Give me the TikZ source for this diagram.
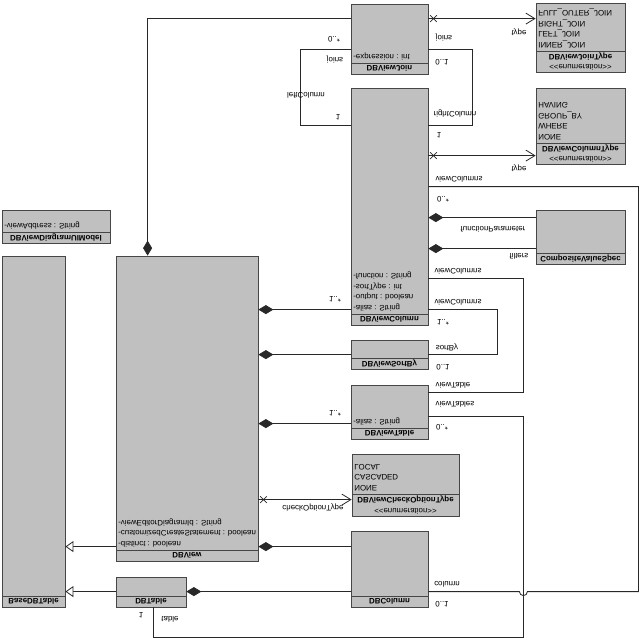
\documentclass[tikz,border=0pt]{standalone}
\usepackage{fontspec}
\setmainfont{Liberation Sans}
\usepackage{tikz}
\usetikzlibrary{arrows.meta,positioning,calc,shapes.misc}
\definecolor{boxgray}{RGB}{192,192,192}
\definecolor{boxline}{RGB}{70,70,70}
\definecolor{wireline}{RGB}{40,40,40}
\newcommand{\umlfont}{\fontsize{7.9pt}{10.5pt}\selectfont}
\newcommand{\stereo}[1]{<\kern0pt<#1>\kern0pt>}

\begin{document}
\begin{tikzpicture}[x=1pt, y=1pt, yscale=-1, transform shape,
  cls/.style={draw=boxline, fill=boxgray, rectangle, inner sep=0pt, line width=0.8pt},
  band/.style={draw=boxline, fill=boxgray, rectangle, inner sep=0pt, minimum height=11pt, font=\umlfont\bfseries, align=center, anchor=north, line width=0.8pt},
  enumband/.style={band, minimum height=21pt, font=\umlfont},
  attr/.style={anchor=north west, inner sep=2.5pt, align=left, font=\umlfont},
  lbl/.style={inner sep=0pt, font=\umlfont},
  wire/.style={draw=wireline, line width=0.8pt},
  comp/.style={wire, -{Diamond[length=15pt, width=9pt]}},
  nav/.style={wire, -{Straight Barb[length=9pt, width=11pt]}},
  gen/.style={wire, -{Triangle[open, length=8pt, width=11pt, fill=white]}},
  xmark/.style={cross out, draw=wireline, minimum size=6pt, inner sep=0pt, line width=0.7pt}
]
\useasboundingbox (0,0) rectangle (640,640);

% classes
\node[cls, minimum width=77pt, minimum height=70pt] (join) at (389.5,39) {};
\node[band, minimum width=77pt] (joinname) at (join.north) {DBViewJoin};
\node[attr] (joinattr) at (joinname.south west) {-expression : int};

\node[cls, minimum width=89pt, minimum height=69pt] (jointype) at (580.5,37.5) {};
\node[enumband, minimum width=89pt] (jointypename) at (jointype.north) {\stereo{enumeration}\\\textbf{DBViewJoinType}};
\node[attr] (jointypelit) at (jointypename.south west) {INNER\_JOIN\\LEFT\_JOIN\\RIGHT\_JOIN\\FULL\_OUTER\_JOIN};

\node[cls, minimum width=77pt, minimum height=237pt] (vcol) at (389.5,206.5) {};
\node[band, minimum width=77pt] (vcolname) at (vcol.north) {DBViewColumn};
\node[attr] (vcolattr) at (vcolname.south west) {-alias : String\\-output : boolean\\-sortType : int\\-function : String};

\node[cls, minimum width=89pt, minimum height=76pt] (coltype) at (580.5,126) {};
\node[enumband, minimum width=89pt] (coltypename) at (coltype.north) {\stereo{enumeration}\\\textbf{DBViewColumnType}};
\node[attr] (coltypelit) at (coltypename.south west) {NONE\\WHERE\\GROUP\_BY\\HAVING};

\node[cls, minimum width=89pt, minimum height=54pt] (cvs) at (580.5,237) {};
\node[band, minimum width=89pt] (cvsname) at (cvs.north) {CompositeValueSpec};

\node[cls, minimum width=77pt, minimum height=29pt] (sortby) at (389.5,354.5) {};
\node[band, minimum width=77pt] (sortbyname) at (sortby.north) {DBViewSortBy};

\node[cls, minimum width=77pt, minimum height=54pt] (vtable) at (389.5,412) {};
\node[band, minimum width=77pt] (vtablename) at (vtable.north) {DBViewTable};
\node[attr] (vtableattr) at (vtablename.south west) {-alias : String};

\node[cls, minimum width=107pt, minimum height=62pt] (checkopt) at (405.5,485) {};
\node[enumband, minimum width=107pt, minimum height=22pt] (checkoptname) at (checkopt.north) {\stereo{enumeration}\\\textbf{DBViewCheckOptionType}};
\node[attr] (checkoptlit) at (checkoptname.south west) {NONE\\CASCADED\\LOCAL};

\node[cls, minimum width=77pt, minimum height=76pt] (dbcolumn) at (389.5,569) {};
\node[band, minimum width=77pt] (dbcolumnname) at (dbcolumn.north) {DBColumn};

\node[cls, minimum width=142pt, minimum height=305pt] (view) at (187,408.5) {};
\node[band, minimum width=142pt] (viewname) at (view.north) {DBView};
\node[attr] (viewattr) at (viewname.south west) {-distinct : boolean\\-customizedCreateStatement : boolean\\-viewEditorDiagramId : String};

\node[cls, minimum width=70pt, minimum height=30pt] (dbtable) at (151,592) {};
\node[band, minimum width=70pt] (dbtablename) at (dbtable.north) {DBTable};

\node[cls, minimum width=63pt, minimum height=351pt] (basetable) at (33.5,431.5) {};
\node[band, minimum width=63pt] (basetablename) at (basetable.north) {BaseDBTable};

\node[cls, minimum width=108pt, minimum height=33pt] (uimodel) at (56,226.5) {};
\node[band, minimum width=108pt] (uimodelname) at (uimodel.north) {DBViewDiagramUIModel};
\node[attr] (uimodelattr) at (uimodelname.south west) {-viewAddress : String};

% DBViewJoin
\draw[comp] ($(join.south west)+(0,15)$) -| ($(view.south west)+(32,0)$);
\draw[nav] ($(join.south east)+(0,15)$) -- ($(jointype.south west)+(0,16)$);
\node[xmark] (xjoin) at ($(join.south east)+(5,15)$) {};
\draw[wire] ($(join.south west)+(0,46)$) -- ++(-50,0) |- ($(vcol.south west)+(0,38)$);
\draw[wire] ($(join.south east)+(0,46)$) -- ++(44,0) |- ($(vcol.south east)+(0,38)$);

% DBViewColumn
\draw[nav] ($(vcol.south east)+(0,68)$) -- ($(coltype.south west)+(0,68)$);
\node[xmark] (xcol) at ($(vcol.south east)+(5,68)$) {};
\draw[wire] ($(vcol.south east)+(0,99)$) -- ++(210,0) -- ++(0,405)
  -- ($(dbcolumn.south east)+(99,61)$) arc[start angle=0, end angle=180, radius=4pt]
  -- ($(dbcolumn.south east)+(0,61)$);
\draw[comp] ($(cvs.south west)+(0,8)$) -- ($(vcol.south east)+(0,130)$);
\draw[comp] ($(cvs.south west)+(0,39)$) -- ($(vcol.south east)+(0,161)$);
\draw[wire] ($(vcol.south east)+(0,191)$) -- ++(95,0) |- ($(vtable.south east)+(0,8)$);
\draw[wire] ($(vcol.south east)+(0,222)$) -- ++(69,0) |- ($(sortby.south east)+(0,15)$);
\draw[wire] ($(vtable.south east)+(0,32)$) -- ++(95,0) -- ++(0,221) -| ($(dbtable.north west)+(38,0)$);

% DBView
\draw[comp] ($(vcol.south west)+(0,222)$) -- ($(view.south east)+(0,54)$);
\draw[comp] ($(sortby.south west)+(0,15)$) -- ($(view.south east)+(0,99)$);
\draw[comp] ($(vtable.south west)+(0,39)$) -- ($(view.south east)+(0,168)$);
\draw[nav] ($(view.south east)+(0,244)$) -- ($(checkopt.south west)+(0,46)$);
\node[xmark] (xview) at ($(view.south east)+(5,244)$) {};
\draw[comp] ($(dbcolumn.south west)+(0,16)$) -- ($(view.south east)+(0,291)$);
\draw[gen] ($(view.south west)+(0,291)$) -- ($(basetable.south east)+(0,291)$);
\draw[gen] ($(dbtable.south west)+(0,15)$) -- ($(basetable.south east)+(0,336)$);
\draw[comp] ($(dbcolumn.south west)+(0,61)$) -- ($(dbtable.south east)+(0,15)$);

% role names and multiplicities
\node[lbl] (typeA) at (519,32) {type};
\node[lbl] (joinsR) at (444,38) {joins};
\node[lbl] (multJR) at (442,62) {0..1};
\node[lbl] (multJL) at (334,39) {0..*};
\node[lbl] (joinsL) at (335,60) {joins};
\node[lbl] (leftcol) at (306,95) {leftColumn};
\node[lbl] (multLC) at (338,117) {1};
\node[lbl] (rightcol) at (455,114) {rightColumn};
\node[lbl] (multRC) at (439,135) {1};
\node[lbl] (typeB) at (519,168) {type};
\node[lbl] (vcolsA) at (459,179) {viewColumns};
\node[lbl] (multVA) at (443,199) {0..*};
\node[lbl] (funcpar) at (493,229) {functionParameter};
\node[lbl] (filters) at (519,256) {filters};
\node[lbl] (vcolsB) at (458,271) {viewColumns};
\node[lbl] (vcolsC) at (458,302) {viewColumns};
\node[lbl] (multVC) at (443,322) {1..*};
\node[lbl] (sortby-l) at (447,347) {sortBy};
\node[lbl] (multSB) at (443,367) {0..1};
\node[lbl] (vtab) at (453,385) {viewTable};
\node[lbl] (vtabs) at (455,404) {viewTables};
\node[lbl] (multVT) at (442,427) {0..*};
\node[lbl] (column) at (447,584) {column};
\node[lbl] (multCol) at (442,604) {0..1};
\node[lbl] (tablel) at (170,619) {table};
\node[lbl] (multTab) at (141,615) {1};
\node[lbl] (checkl) at (313,508) {checkOptionType};
\node[lbl] (multVwC) at (335,299) {1..*};
\node[lbl] (multVwT) at (335,413) {1..*};

\end{tikzpicture}
\end{document}
